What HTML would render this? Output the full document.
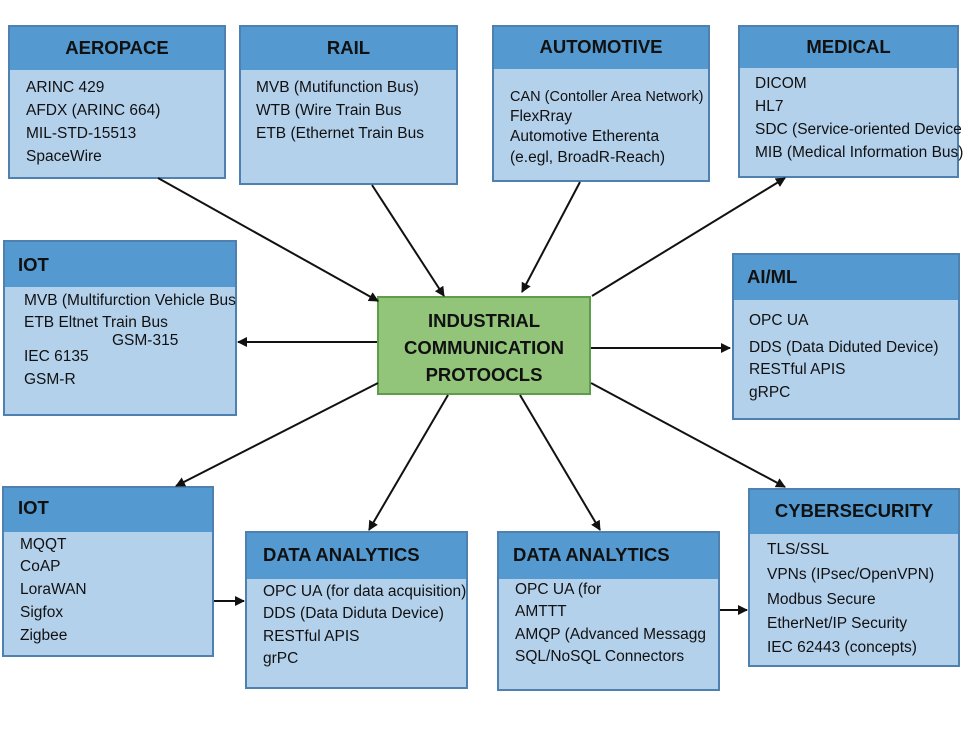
<!DOCTYPE html>
<html><head><meta charset="utf-8"><style>
body{margin:0;width:972px;height:741px;background:#fff;position:relative;overflow:hidden;font-family:"Liberation Sans",sans-serif;}
.b{position:absolute;background:#b4d1ec;border:2px solid #4f81b0;box-sizing:border-box;}
.h{position:absolute;left:0;right:0;top:0;background:#5499cf;}
.t{position:absolute;white-space:nowrap;font-size:15.5px;line-height:20px;color:#111;}
.ht{position:absolute;white-space:nowrap;font-size:18.5px;font-weight:bold;line-height:24px;color:#111;}
svg{position:absolute;left:0;top:0;}
</style></head><body>

<div class="b" style="left:8px;top:25px;width:218px;height:154px"><div class="h" style="height:43px"></div></div>
<div class="b" style="left:239px;top:25px;width:219px;height:160px"><div class="h" style="height:43px"></div></div>
<div class="b" style="left:492px;top:25px;width:218px;height:157px"><div class="h" style="height:42px"></div></div>
<div class="b" style="left:738px;top:25px;width:221px;height:153px"><div class="h" style="height:41px"></div></div>
<div class="b" style="left:3px;top:240px;width:234px;height:176px"><div class="h" style="height:45px"></div></div>
<div class="b" style="left:732px;top:253px;width:228px;height:167px"><div class="h" style="height:45px"></div></div>
<div class="b" style="left:2px;top:486px;width:212px;height:171px"><div class="h" style="height:44px"></div></div>
<div class="b" style="left:245px;top:531px;width:223px;height:158px"><div class="h" style="height:46px"></div></div>
<div class="b" style="left:497px;top:531px;width:223px;height:160px"><div class="h" style="height:46px"></div></div>
<div class="b" style="left:748px;top:488px;width:212px;height:179px"><div class="h" style="height:44px"></div></div>
<div style="position:absolute;left:377px;top:296px;width:214px;height:99px;background:#92c47a;border:2px solid #5e9d4a;box-sizing:border-box"></div>

<svg width="972" height="741">
<defs><marker id="a" markerWidth="10" markerHeight="10" refX="9" refY="5" orient="auto" markerUnits="userSpaceOnUse"><path d="M0,0 L10,5 L0,10 z" fill="#111"/></marker></defs>
<g stroke="#111" stroke-width="2" fill="none" marker-end="url(#a)">
<line x1="158" y1="178" x2="378" y2="301"/>
<line x1="372" y1="185" x2="444" y2="296"/>
<line x1="580" y1="182" x2="522" y2="292"/>
<line x1="592" y1="296" x2="785" y2="178"/>
<line x1="377" y1="342" x2="238" y2="342"/>
<line x1="591" y1="348" x2="730" y2="348"/>
<line x1="378" y1="383" x2="176" y2="486"/>
<line x1="448" y1="395" x2="369" y2="530"/>
<line x1="520" y1="395" x2="600" y2="530"/>
<line x1="591" y1="383" x2="785" y2="487"/>
<line x1="214" y1="601" x2="244" y2="601"/>
<line x1="720" y1="610" x2="747" y2="610"/>
</g></svg>

<div class="ht" style="left:8px;width:218px;text-align:center;top:36px">AEROPACE</div>
<div class="t" style="left:26px;top:78px">ARINC 429</div>
<div class="t" style="left:26px;top:101px">AFDX (ARINC 664)</div>
<div class="t" style="left:26px;top:124px">MIL-STD-15513</div>
<div class="t" style="left:26px;top:147px">SpaceWire</div>

<div class="ht" style="left:239px;width:219px;text-align:center;top:36px">RAIL</div>
<div class="t" style="left:256px;top:78px">MVB (Mutifunction Bus)</div>
<div class="t" style="left:256px;top:101px">WTB (Wire Train Bus</div>
<div class="t" style="left:256px;top:124px">ETB (Ethernet Train Bus</div>

<div class="ht" style="left:492px;width:218px;text-align:center;top:35px">AUTOMOTIVE</div>
<div class="t" style="left:510px;top:87px;font-size:14.5px">CAN (Contoller Area Network)</div>
<div class="t" style="left:510px;top:107px">FlexRray</div>
<div class="t" style="left:510px;top:127px">Automotive Etherenta</div>
<div class="t" style="left:510px;top:148px">(e.egl, BroadR-Reach)</div>

<div class="ht" style="left:738px;width:221px;text-align:center;top:35px">MEDICAL</div>
<div class="t" style="left:755px;top:74px">DICOM</div>
<div class="t" style="left:755px;top:97px">HL7</div>
<div class="t" style="left:755px;top:120px">SDC (Service-oriented Device</div>
<div class="t" style="left:755px;top:143px">MIB (Medical Information Bus)</div>

<div class="ht" style="left:18px;top:253px">IOT</div>
<div class="t" style="left:24px;top:291px">MVB (Multifurction Vehicle Bus</div>
<div class="t" style="left:24px;top:313px">ETB Eltnet Train Bus</div>
<div class="t" style="left:112px;top:331px">GSM-315</div>
<div class="t" style="left:24px;top:347px">IEC 6135</div>
<div class="t" style="left:24px;top:370px">GSM-R</div>

<div class="ht" style="left:747px;top:265px">AI/ML</div>
<div class="t" style="left:749px;top:311px">OPC UA</div>
<div class="t" style="left:749px;top:338px">DDS (Data Diduted Device)</div>
<div class="t" style="left:749px;top:360px">RESTful APIS</div>
<div class="t" style="left:749px;top:383px">gRPC</div>

<div class="ht" style="left:377px;width:214px;text-align:center;top:307px;line-height:27px">INDUSTRIAL<br>COMMUNICATION<br>PROTOOCLS</div>

<div class="ht" style="left:18px;top:496px">IOT</div>
<div class="t" style="left:20px;top:535px">MQQT</div>
<div class="t" style="left:20px;top:557px">CoAP</div>
<div class="t" style="left:20px;top:580px">LoraWAN</div>
<div class="t" style="left:20px;top:603px">Sigfox</div>
<div class="t" style="left:20px;top:626px">Zigbee</div>

<div class="ht" style="left:263px;top:543px">DATA ANALYTICS</div>
<div class="t" style="left:263px;top:582px">OPC UA (for data acquisition)</div>
<div class="t" style="left:263px;top:604px">DDS (Data Diduta Device)</div>
<div class="t" style="left:263px;top:627px">RESTful APIS</div>
<div class="t" style="left:263px;top:649px">grPC</div>

<div class="ht" style="left:513px;top:543px">DATA ANALYTICS</div>
<div class="t" style="left:515px;top:580px">OPC UA (for</div>
<div class="t" style="left:515px;top:602px">AMTTT</div>
<div class="t" style="left:515px;top:625px">AMQP (Advanced Messagg</div>
<div class="t" style="left:515px;top:647px">SQL/NoSQL Connectors</div>

<div class="ht" style="left:748px;width:212px;text-align:center;top:499px">CYBERSECURITY</div>
<div class="t" style="left:767px;top:540px">TLS/SSL</div>
<div class="t" style="left:767px;top:565px">VPNs (IPsec/OpenVPN)</div>
<div class="t" style="left:767px;top:590px">Modbus Secure</div>
<div class="t" style="left:767px;top:614px">EtherNet/IP Security</div>
<div class="t" style="left:767px;top:638px">IEC 62443 (concepts)</div>
</body></html>
